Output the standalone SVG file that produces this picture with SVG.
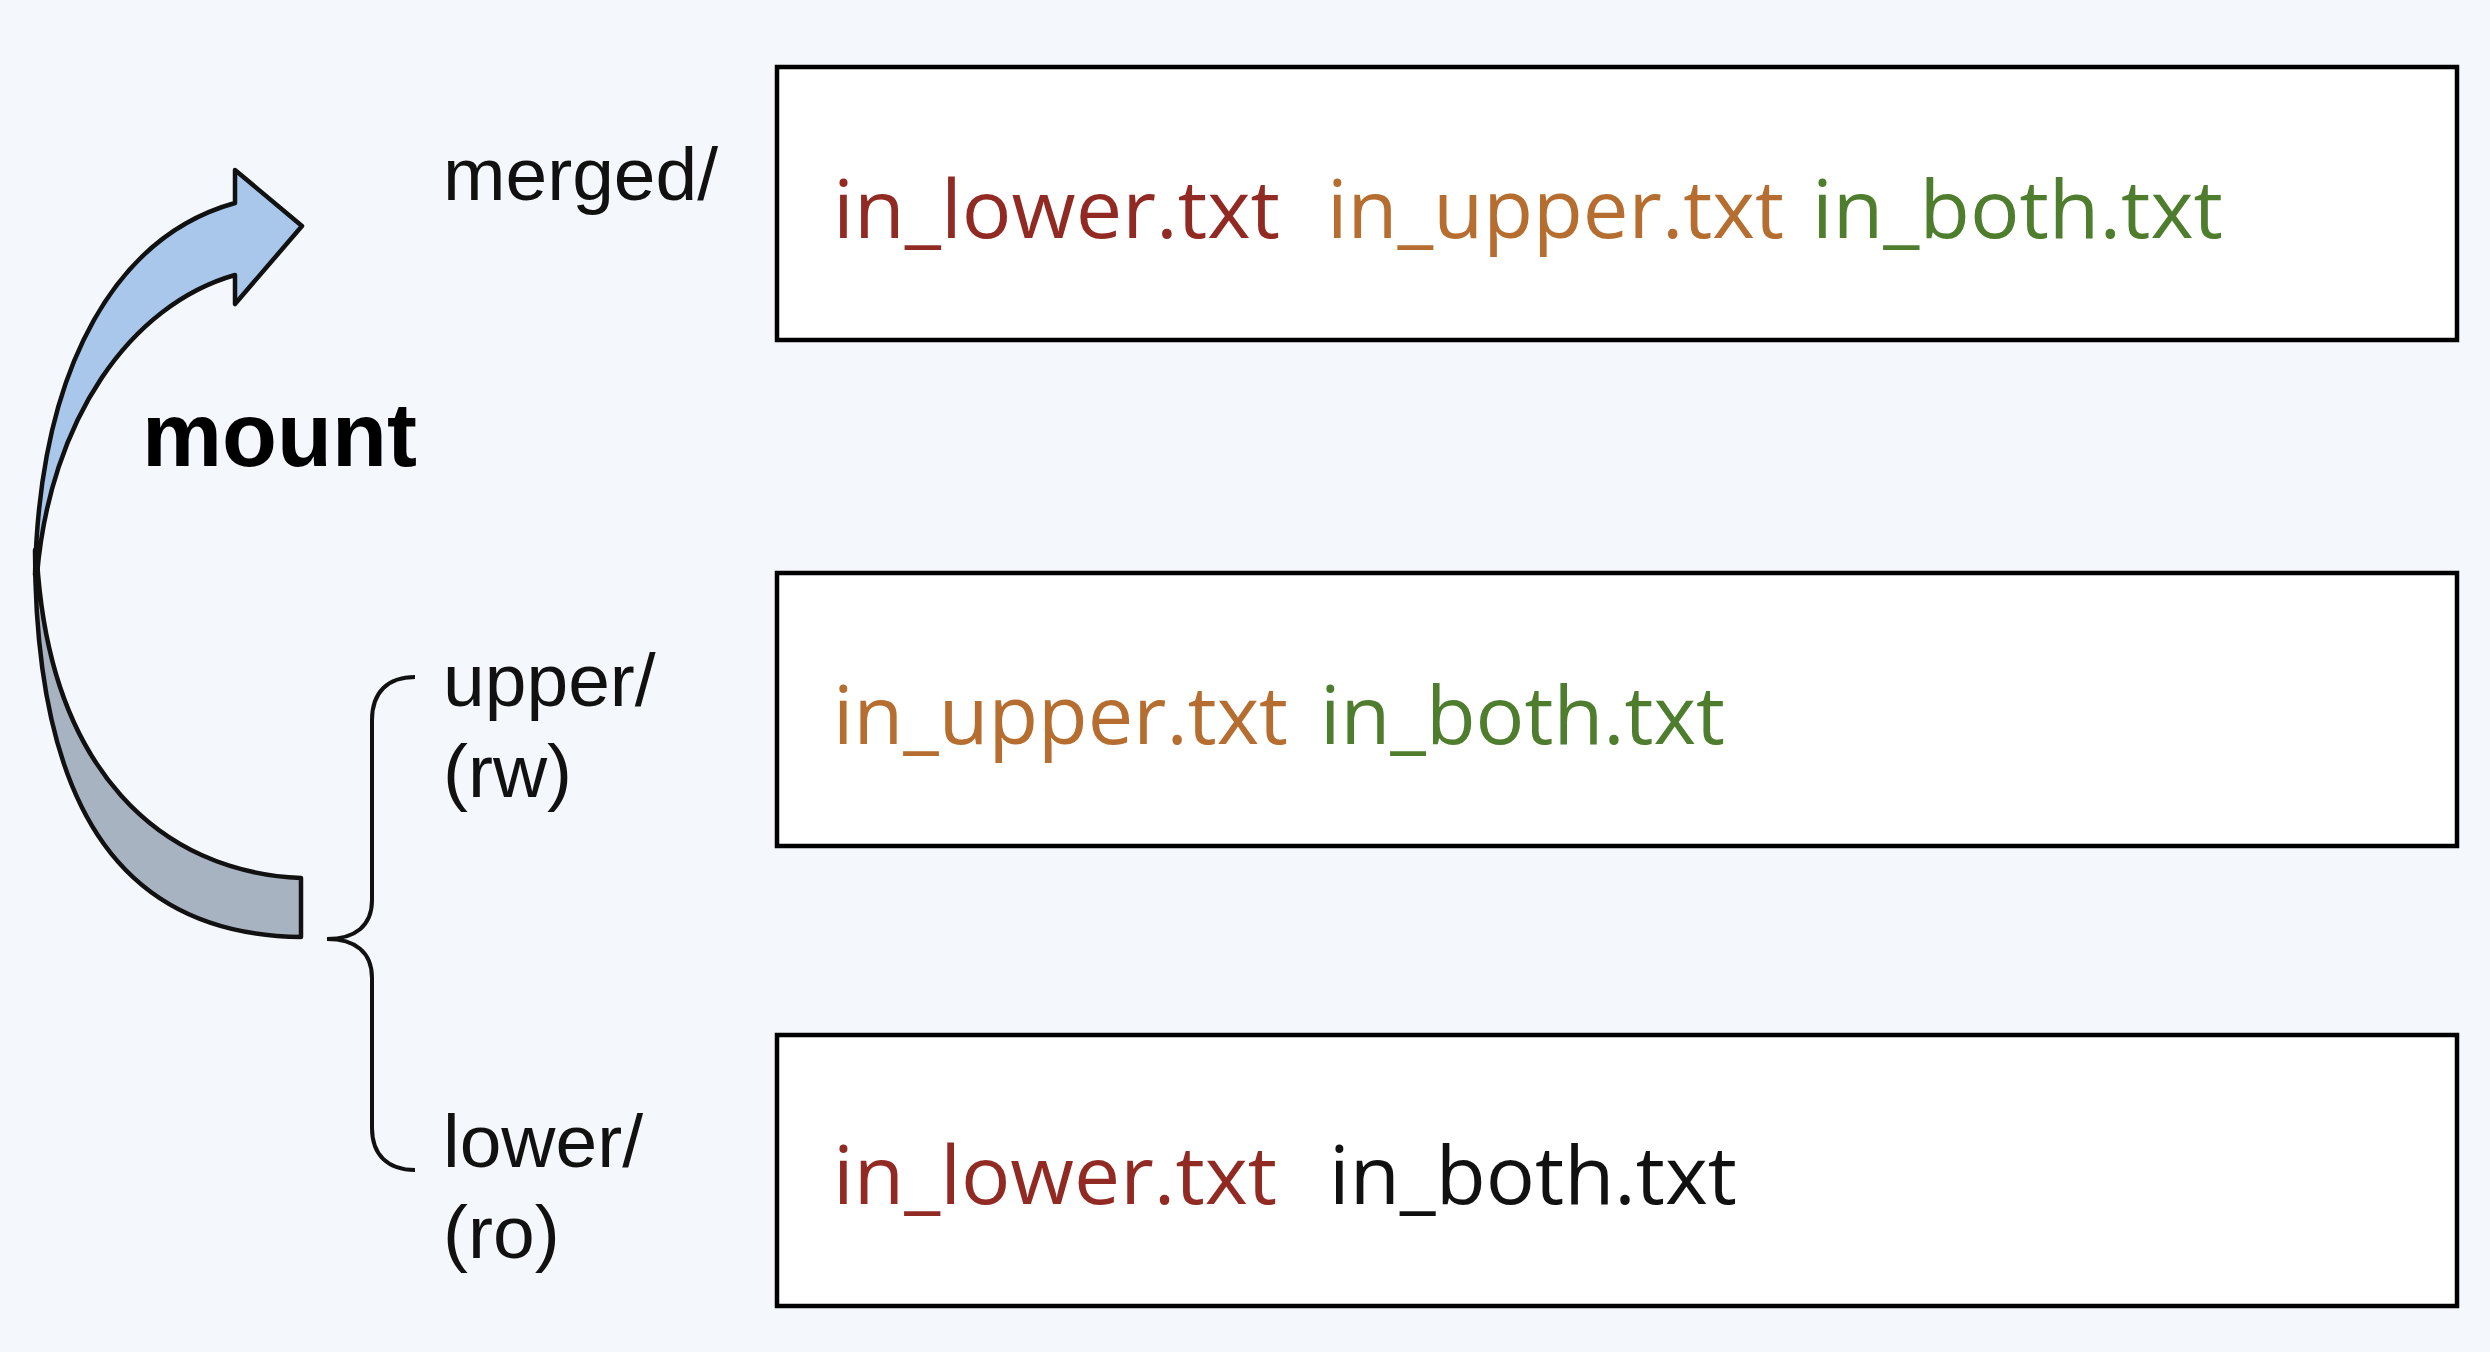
<svg xmlns="http://www.w3.org/2000/svg" width="2490" height="1352" viewBox="0 0 2490 1352">
<style>
.lbl{font-family:"Liberation Sans",Arial,sans-serif;font-size:75px;fill:#111}
.mnt{font-family:"Liberation Sans",Arial,sans-serif;font-size:90px;font-weight:bold;fill:#000}
.box{fill:#fff;stroke:#000;stroke-width:4.5}
.ft{font-family:"Open Sans","Noto Sans",sans-serif;font-size:80px}
.red{fill:#922a24}
.org{fill:#b56d30}
.grn{fill:#4f7d2e}
.blk{fill:#111}
.edge{stroke:#111;stroke-width:4.5;stroke-linejoin:round}
</style>
<rect x="0" y="0" width="2490" height="1352" fill="#f4f7fc"/>
<g id="connectors">
<path id="arrow-back" class="edge" fill="#a8b3c1" d="M35,550 C35,820 130,935 301,937 L301,878 C160,872 50,770 37,560 Z"/>
<path id="arrow-front" class="edge" fill="#a9c7ea" d="M35,575 C40,360 120,235 235,203 L235,170 L302,226 L235,304 L235,275 C130,305 50,420 37,575 Z"/>
<path id="brace" fill="none" stroke="#111" stroke-width="4" d="M415,677 C388,677 372,692 372,720 L372,900 C372,926 355,939 327,939 C355,939 372,952 372,978 L372,1128 C372,1155 388,1170 415,1170"/>
</g>
<g id="label-mount"><text class="mnt" x="142" y="466">mount</text></g>
<g id="label-merged"><text class="lbl" x="443" y="200">merged/</text></g>
<g id="label-upper"><text class="lbl" x="443" y="706">upper/</text><text class="lbl" x="443" y="797">(rw)</text></g>
<g id="label-lower"><text class="lbl" x="443" y="1167">lower/</text><text class="lbl" x="443" y="1258">(ro)</text></g>
<g id="merged">
<rect class="box" x="777" y="67" width="1680" height="273"/>
<text class="ft red" x="833" y="238" textLength="447" lengthAdjust="spacingAndGlyphs">in_lower.txt</text>
<text class="ft org" x="1327" y="238" textLength="457" lengthAdjust="spacingAndGlyphs">in_upper.txt</text>
<text class="ft grn" x="1812" y="238" textLength="411" lengthAdjust="spacingAndGlyphs">in_both.txt</text>
</g>
<g id="upper">
<rect class="box" x="777" y="573" width="1680" height="273"/>
<text class="ft org" x="833" y="744" textLength="455" lengthAdjust="spacingAndGlyphs">in_upper.txt</text>
<text class="ft grn" x="1320" y="744" textLength="405" lengthAdjust="spacingAndGlyphs">in_both.txt</text>
</g>
<g id="lower">
<rect class="box" x="777" y="1035" width="1680" height="271"/>
<text class="ft red" x="833" y="1204" textLength="444" lengthAdjust="spacingAndGlyphs">in_lower.txt</text>
<text class="ft blk" x="1329" y="1204" textLength="408" lengthAdjust="spacingAndGlyphs">in_both.txt</text>
</g>
</svg>
